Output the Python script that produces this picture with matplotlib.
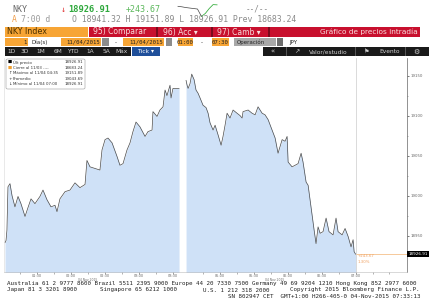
import matplotlib
matplotlib.use("Agg")
import matplotlib.pyplot as plt
from matplotlib.patches import Rectangle, FancyBboxPatch

# --- data (NKY intraday, 04 Nov 2015, CET) ---
# morning session: minutes after 01:00
am_off = [1.8, 2.7, 3.5, 4.4, 6.2, 8.0, 10.6, 13.3, 15.9, 19.5,
          22.1, 24.8, 28.3, 32.7, 35.4, 38.9, 42.5, 46.0, 47.8, 50.4,
          54.9, 59.3, 63.7, 68.1, 72.6, 74.3, 77.0, 81.4, 85.8, 87.6,
          90.3, 92.9, 96.5, 100.9, 103.5, 106.2, 109.7, 112.4, 115.0, 117.7,
          121.2, 125.7, 128.3, 131.9, 132.7, 136.3, 138.9, 141.6, 143.4, 145.1,
          147.8, 148.7, 150.4, 155.8]
am_vals = [18941.32, 18944, 18957, 19011, 19015, 19000, 18986, 18999, 18990, 18974,
           18985, 18996, 18990, 18999, 19007, 18995, 18986, 18988, 18980, 18996,
           19005, 19007, 19016, 19010, 19014, 19044, 19036, 19034, 19032, 19057,
           19070, 19072, 19066, 19049, 19038, 19040, 19057, 19066, 19080, 19092,
           19086, 19074, 19080, 19082, 19105, 19099, 19107, 19111, 19132, 19125,
           19138, 19122, 19134, 19134]
# afternoon session: minutes after 04:30
pm_off = [0, 0.9, 1.8, 3.5, 5.0, 7.1, 8.8, 10.6, 12.4, 15.0,
          17.7, 19.5, 21.2, 23.9, 25.7, 28.3, 31.0, 32.7, 34.5, 36.3,
          38.9, 41.6, 45.1, 47.8, 49.6, 50.4, 54.9, 58.4, 61.1, 63.7,
          67.3, 69.9, 72.6, 76.1, 78.8, 81.4, 85.0, 87.6, 89.4, 90.3,
          93.8, 96.5, 99.1, 101.8, 103.5, 106.2, 108.0, 109.7, 111.5, 113.3,
          115.0, 116.8, 118.6, 121.2, 123.9, 126.5, 130.1, 132.7, 134.5, 138.1,
          140.7, 143.4, 146.0, 147.8, 148.7, 150.0]
pm_vals = [19144, 19138, 19134, 19140, 19151.89, 19145, 19132, 19128, 19122, 19113,
           19110, 19103, 19091, 19082, 19088, 19076, 19063, 19074, 19088, 19103,
           19097, 19107, 19103, 19100, 19097, 19105, 19107, 19103, 19101, 19111,
           19103, 19101, 19095, 19082, 19072, 19053, 19070, 19068, 19074, 19042,
           19036, 19038, 19040, 19053, 19042, 19017, 19013, 18995, 18976, 18957,
           18940, 18961, 18953, 18955, 18972, 18955, 18951, 18972, 18955, 18951,
           18959, 18949, 18936, 18945, 18930, 18926.91]

last_px = 18926.91
open_px = 18941.32
high_px = 19151.89
low_px = 18926.91
prev_close = 18683.24
avg_px = 19043.69

xtick_times = ["01:30", "02:00", "02:30", "03:00", "03:30",
               "05:00", "05:30", "06:00", "06:30", "07:00"]
yticks = [18950, 19000, 19050, 19100, 19150]

legend_labels = ["Últ precio", "Cierre al 11/03 ----", "Máximo al 11/04 04:35",
                 "Promedio", "Mínimo al 11/04 07:00"]
legend_vals = [last_px, prev_close, high_px, avg_px, low_px]
legend_icons = ["■", "■", "↑", "+", "↓"]
legend_icon_colors = ["black", "#f0a030", "#333333", "#333333", "#333333"]

buttons = ["1D", "3D", "1M", "6M", "YTD", "1A", "5A", "Máx"]
spark_vals = [18905, 18895, 18880, 18870, 18860, 18850, 18700, 18760, 18860, 18940, 18935]

# compressed time axis: lunch break squeezed to a small gap
def tx(hhmm):
    h, m = hhmm.split(":")
    t = int(h) * 60 + int(m)
    return t if t <= 240 else t - 48

am_x = [60 + o for o in am_off]
pm_x = [222 + o for o in pm_off]

W, H = 432, 306
fig = plt.figure(figsize=(W / 100, H / 100), dpi=100)
fig.patch.set_facecolor("white")


def fx(px):
    return px / W


def fy(py):
    return 1 - py / H


def box(x0, y0, x1, y1, color, **kw):
    fig.patches.append(Rectangle((fx(x0), fy(y1)), (x1 - x0) / W, (y1 - y0) / H,
                                 transform=fig.transFigure, facecolor=color,
                                 edgecolor="none", **kw))


def txt(px, py, s, size=5, color="#333333", family="DejaVu Sans", **kw):
    fig.text(fx(px), fy(py), s, fontsize=size, color=color, family=family,
             va="center", **kw)


MONO = "DejaVu Sans Mono"

# ---- header ----
txt(12, 9, "NKY", 6, "#666666", MONO)
txt(61, 9, "↓", 6, "#e03030", MONO)
txt(68, 9, f"{last_px:.2f}", 6.3, "#2ea83c", MONO, weight="bold")
txt(126, 9, f"+{last_px - prev_close:.2f}", 6, "#5cb85c", MONO)
txt(246, 9, "--/--", 5.5, "#888888", MONO)

sp = fig.add_axes([fx(176), fy(17), 43 / W, 13 / H])
n = len(spark_vals)
sp.plot(range(7), spark_vals[:7], color="#444444", lw=0.5)
sp.plot(range(6, n), spark_vals[6:], color="#3cb043", lw=0.6)
sp.axis("off")

txt(12, 20, "A", 5.8, "#f0a050", MONO)
txt(21, 20, "7:00 d", 5.8, "#999999", MONO)
txt(72, 20, f"O {open_px:.2f} H {high_px:.2f} L {low_px:.2f} Prev {prev_close:.2f}",
    5.9, "#8a8a8a", MONO)

# row 3: security + red title bar
box(5, 27, 88, 37, "#f7a535")
txt(7, 32, "NKY Index", 5.8, "#4a3000")
box(89, 27, 420, 37, "#c8102e")
for sx in [156, 211, 268]:
    box(sx, 27, sx + 1.5, 37, "#7a0a1c")
txt(93, 32, "95) Comparar", 5.5, "#f8dede")
txt(163, 32, "96) Acc ▾", 5.5, "#f8dede")
txt(217, 32, "97) Camb ▾", 5.5, "#f8dede")
txt(418, 32, "Gráfico de precios intradía", 5.3, "#f8dede", ha="right")

# row 4: date range fields
y0, y1, yc = 38.5, 46, 42.3
box(5, y0, 28, y1, "#f7a535")
txt(27, yc, "1", 4, "#222222", ha="right")
box(29, y0, 60, y1, "white", )
txt(31, yc, "Día(s)", 4, "#222222")
box(61, y0, 101, y1, "#f7a535")
txt(100, yc, "11/04/2015", 4.1, "#222222", MONO, ha="right")
box(102, y0, 109, y1, "#8c8c8c")
box(111, y0, 121, y1, "white")
txt(116, yc, "-", 4, "#222222", ha="center")
box(123, y0, 164, y1, "#f7a535")
txt(163, yc, "11/04/2015", 4.1, "#222222", MONO, ha="right")
box(166, y0, 172, y1, "#8c8c8c")
box(178, y0, 193, y1, "#f7a535")
txt(185.5, yc, "01:00", 4.1, "#222222", MONO, ha="center")
txt(202, yc, "-", 4, "#222222", ha="center")
box(212, y0, 229, y1, "#f7a535")
txt(220.5, yc, "07:30", 4.1, "#222222", MONO, ha="center")
box(234, y0, 276, y1, "#a8a8a8")
txt(237, yc, "Operación", 4, "#222222")
box(277, y0, 283, y1, "#6e6e6e")
txt(289, yc, "JPY", 4, "#222222")

# row 5: period buttons and toolbar
y0, y1, yc = 47.5, 55.5, 51.5
box(5, y0, 131, y1, "#1a1a1a")
bx = [11, 25, 41, 57.5, 73, 90, 106, 122]
for b, cx in zip(buttons, bx):
    txt(cx, yc, b, 4.2, "#d0d0d0", ha="center")
box(132, y0, 160, y1, "#1f4f9a")
txt(146, yc, "Tick ▾", 4.3, "white", ha="center")
box(263, y0, 429, y1, "#1a1a1a")
for sx in [286, 355, 405]:
    box(sx, y0, sx + 0.8, y1, "#555555")
txt(273, yc, "«", 5, "#d0d0d0", ha="center")
txt(297, yc, "↗", 4.5, "#d0d0d0", ha="center")
txt(309, yc, "Valor/estudio", 4.2, "#d0d0d0")
txt(367, yc, "⚑", 4.5, "#d0d0d0", ha="center")
txt(379, yc, "Evento", 4.2, "#d0d0d0")
txt(416, yc, "⚙", 5, "#d0d0d0", ha="center")

# ---- chart ----
ax = fig.add_axes([fx(4), 34 / H, 403 / W, 214 / H])
ymin, ymax = 18904.6, 19172
for xs, ys in [(am_x, am_vals), (pm_x, pm_vals)]:
    ax.fill_between(xs, ys, ymin - 10, color="#cfe1f7", lw=0)
    ax.plot(xs, ys, color="#4a4a4a", lw=0.5)

x_close = tx("07:00")
ax.axvline(x_close, color="#cccccc", lw=0.5)
ax.hlines(last_px, x_close, 417.5, color="#f5c08a", lw=0.6)
ax.text(x_close + 2, 18924.0, f"+{last_px - prev_close:.2f}", fontsize=2.8,
        color="#f0a060", va="center")
ax.text(x_close + 2, 18916.5, f"{(last_px - prev_close) / prev_close * 100:.2f}%",
        fontsize=2.8, color="#f0a060", va="center")

ax.set_xlim(60.9, 417.5)
ax.set_ylim(ymin, ymax)

ax.set_xticks([tx(t) for t in xtick_times])
ax.set_xticklabels(xtick_times)
ax.set_xticks([tx(t) for t in ["01:15", "01:45", "02:15", "02:45", "03:15",
                              "04:45", "05:15", "05:45", "06:15", "06:45", "07:15", "07:30"]],
              minor=True)
ax.yaxis.tick_right()
ax.set_yticks(yticks)
ax.set_yticklabels([str(v) for v in yticks])
ax.set_yticks([18925, 18975, 19025, 19075, 19125], minor=True)
ax.tick_params(axis="x", which="major", labelsize=2.5, colors="#555555",
               length=1.5, width=0.4, pad=0.2)
ax.tick_params(axis="x", which="minor", length=1.2, width=0.4, colors="#777777")
ax.tick_params(axis="y", which="major", labelsize=2.8, colors="#444444",
               length=1.5, width=0.5, pad=1)
ax.tick_params(axis="y", which="minor", length=1, width=0.4, colors="#777777")
for lab in ax.get_xticklabels() + ax.get_yticklabels():
    lab.set_color("#666666")
ax.spines["top"].set_visible(False)
ax.spines["left"].set_color("#d8d8d8")
ax.spines["left"].set_linewidth(0.4)
ax.spines["right"].set_color("#666666")
ax.spines["right"].set_linewidth(0.5)
ax.spines["bottom"].set_color("#bbbbbb")
ax.spines["bottom"].set_linewidth(0.4)

for dx in [135, 300]:
    ax.text(dx, -0.036, "04 Nov 2015", transform=ax.get_xaxis_transform(),
            fontsize=2.2, color="#666666", ha="center", va="center")

ax.text(1.003, last_px, f"{last_px:.2f}", transform=ax.get_yaxis_transform(),
        fontsize=3, color="white", va="center", ha="left",
        bbox=dict(boxstyle="square,pad=0.25", fc="black", ec="none"))

# legend box
fig.patches.append(FancyBboxPatch((fx(6), fy(89)), 79 / W, 30 / H,
                                  boxstyle="round,pad=0,rounding_size=0.004",
                                  transform=fig.transFigure, facecolor="white",
                                  edgecolor="#999999", lw=0.4))
for i, (ic, icc, lab, val) in enumerate(zip(legend_icons, legend_icon_colors,
                                             legend_labels, legend_vals)):
    yy = 62.3 + i * 5.5
    txt(10, yy, ic, 3.2, icc, ha="center")
    txt(13, yy, lab, 2.8, "#333333")
    txt(83, yy, f"{val:.2f}", 2.8, "#333333", ha="right")

# ---- footer ----
FS = 4.2
txt(7, 283, "Australia 61 2 9777 8600 Brazil 5511 2395 9000 Europe 44 20 7330 7500 "
    "Germany 49 69 9204 1210 Hong Kong 852 2977 6000", FS, "#222222", MONO)
txt(7, 290, "Japan 81 3 3201 8900", FS, "#222222", MONO)
txt(100, 290, "Singapore 65 6212 1000", FS, "#222222", MONO)
txt(203, 290, "U.S. 1 212 318 2000", FS, "#222222", MONO)
txt(420, 290, "Copyright 2015 Bloomberg Finance L.P.", FS, "#222222", MONO, ha="right")
txt(420, 297, "SN 802947 CET  GMT+1:00 H266-405-0 04-Nov-2015 07:33:13",
    FS, "#222222", MONO, ha="right")

fig.savefig("out.png", dpi=100)
